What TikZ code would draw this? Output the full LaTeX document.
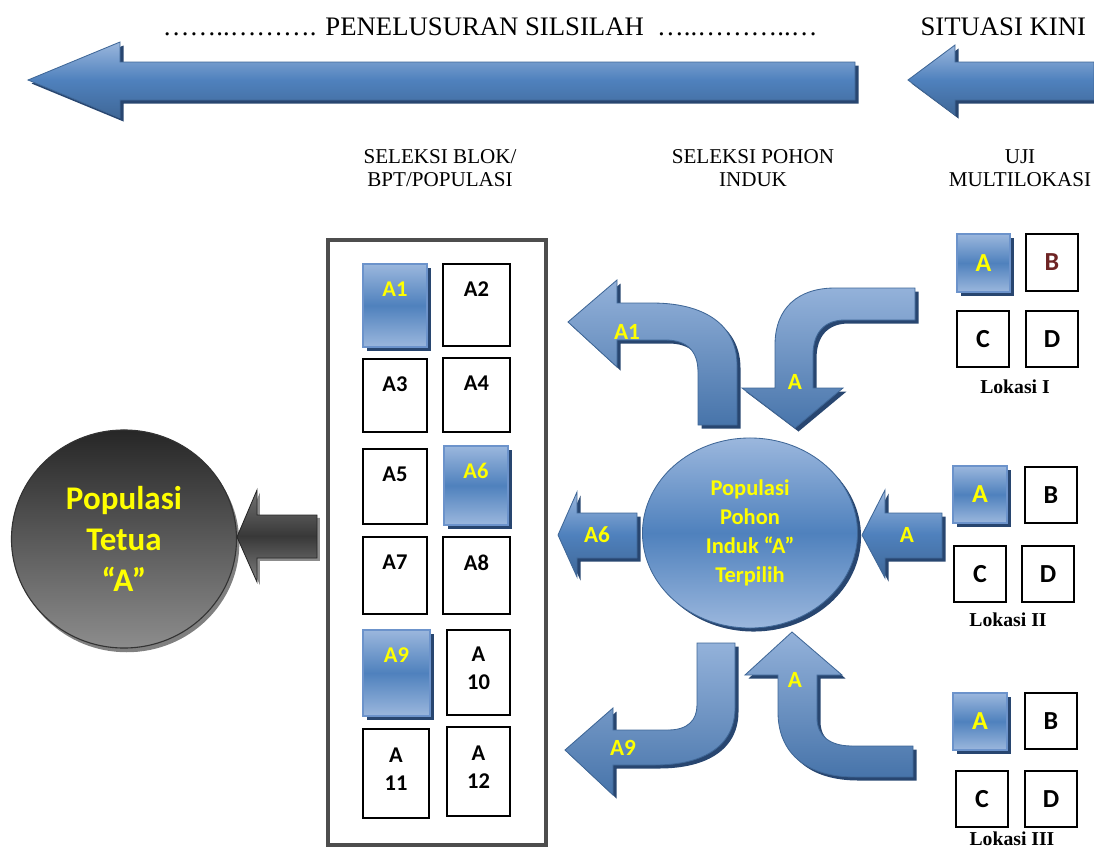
\documentclass[tikz,border=0pt]{standalone}
\usepackage{fontspec}
\setmainfont{Liberation Serif}
\newfontfamily\calibri{Carlito}
\usetikzlibrary{shapes.geometric,shadows,fit}

\definecolor{bluelight}{HTML}{9BB7DD}
\definecolor{bluemid}{HTML}{4F81BD}
\definecolor{blueedge}{HTML}{6C93CB}
\definecolor{shadowblue}{HTML}{284670}
\definecolor{framegray}{HTML}{4D4D4D}
\definecolor{yel}{HTML}{FFFF00}
\definecolor{brownred}{HTML}{6E2424}

\tikzset{
  bayang/.style={drop shadow={shadow xshift=2.5pt, shadow yshift=-2.5pt, fill=shadowblue, opacity=1}},
  blok/.style={draw=black, line width=1pt, fill=white, inner sep=0pt},
  blokbiru/.style={draw=blueedge, line width=1.2pt, top color=bluelight, bottom color=bluelight,
    middle color=bluemid, inner sep=0pt, bayang},
  panah/.style={draw=bluemid!80!black, line width=0.6pt, top color=bluelight, bottom color=bluemid!80!black,
    middle color=bluemid, bayang},
  panahlengkung/.style={draw=bluemid!80!black, line width=0.6pt, top color=bluelight!90!bluemid,
    bottom color=bluemid!90!black, bayang},
  panahabu/.style={draw=black!85, line width=0.6pt, top color=black!55, bottom color=black!50,
    middle color=black!78, drop shadow={shadow xshift=2pt, shadow yshift=-2pt, fill=black!45, opacity=1}},
  bingkai/.style={draw=framegray, line width=2.2pt, inner sep=0pt},
  judul/.style={font=\fontsize{19}{22}\selectfont},
  ket/.style={font=\fontsize{15}{16.5}\selectfont, align=center},
  lokasi/.style={font=\bfseries\fontsize{14}{16}\selectfont},
  huruf/.style={font=\calibri\bfseries\fontsize{16}{20.5}\selectfont, align=center},
  hurufkuning/.style={huruf, text=yel},
  hurufbesar/.style={font=\calibri\bfseries\fontsize{18.5}{22}\selectfont},
  panahteks/.style={font=\calibri\bfseries\fontsize{16.5}{18}\selectfont, text=yel},
}

\begin{document}
\begin{tikzpicture}[x=0.025cm, y=-0.025cm]
  \useasboundingbox (0,0) rectangle (1094,849);

  % judul atas
  \node[judul, anchor=west] (silsilah) at (158,27) {……..………. PENELUSURAN SILSILAH \ …..………..…};
  \node[judul, anchor=east] (kini) at (1091,27) {SITUASI KINI};
  % panah atas
  \path[panah] (28,80) -- (120,42) -- (120,62) -- (855,62) -- (855,100) -- (120,100) -- (120,118) -- cycle;
  \path[panah] (908,80) -- (955,45) -- (955,62) -- (1094,62) -- (1094,100) -- (955,100) -- (955,115) -- cycle;

  % tahapan
  \node[ket] (seleksiblok) at (440,168) {SELEKSI BLOK/\\BPT/POPULASI};
  \node[ket] (seleksipohon) at (753,168) {SELEKSI POHON\\INDUK};
  \node[ket] (uji) at (1020,168) {UJI\\MULTILOKASI};

  % blok / BPT / populasi
  \node[bingkai, fit={(328,240) (546,845)}] (wadah) {};
  \node[blokbiru, fit={(363,264) (427,347)}] (a1) {};
  \node[blok, fit={(443,264) (510,346)}] (a2) {};
  \node[blok, fit={(363,359) (427,432)}] (a3) {};
  \node[blok, fit={(443,358) (510,432)}] (a4) {};
  \node[blok, fit={(363,449) (427,524)}] (a5) {};
  \node[blokbiru, fit={(444,446) (508,525)}] (a6) {};
  \node[blok, fit={(363,537) (427,614)}] (a7) {};
  \node[blok, fit={(443,537) (510,614)}] (a8) {};
  \node[blokbiru, fit={(363,630) (430,716)}] (a9) {};
  \node[blok, fit={(447,630) (510,715)}] (a10) {};
  \node[blok, fit={(363,729) (429,818)}] (a11) {};
  \node[blok, fit={(447,727) (510,816)}] (a12) {};
  \node[hurufkuning] (t1) at ([yshift=-18.5pt]a1.north) {A1};
  \node[huruf] (t2) at ([yshift=-18.5pt]a2.north) {A2};
  \node[huruf] (t3) at ([yshift=-18.5pt]a3.north) {A3};
  \node[huruf] (t4) at ([yshift=-18.5pt]a4.north) {A4};
  \node[huruf] (t5) at ([yshift=-18.5pt]a5.north) {A5};
  \node[hurufkuning] (t6) at ([yshift=-18.5pt]a6.north) {A6};
  \node[huruf] (t7) at ([yshift=-18.5pt]a7.north) {A7};
  \node[huruf] (t8) at ([yshift=-18.5pt]a8.north) {A8};
  \node[hurufkuning] (t9) at ([yshift=-18.5pt]a9.north) {A9};
  \node[huruf] (t10) at ([yshift=3pt]a10.center) {A\\10};
  \node[huruf] (t11) at ([yshift=3pt]a11.center) {A\\11};
  \node[huruf] (t12) at ([yshift=3pt]a12.center) {A\\12};

  % populasi tetua
  \node[ellipse, draw=black!80, line width=0.8pt, minimum width=5.625cm, minimum height=5.45cm,
    top color=black!85, bottom color=black!45, text=yel, align=center,
    font=\calibri\bfseries\fontsize{23.5}{29}\selectfont,
    drop shadow={shadow xshift=2pt, shadow yshift=-3pt, fill=black!50, opacity=1}] (tetua) at (124,539)
    {Populasi\\Tetua\\“A”};
  \path[panahabu] (237,537) -- (257,490) -- (257,515) -- (317,515) -- (317,558) -- (257,558) -- (257,582) -- cycle;

  % populasi pohon induk
  \node[ellipse, draw=bluemid!80!black, line width=0.6pt, minimum width=5.375cm, minimum height=4.75cm,
    top color=bluelight, bottom color=bluelight, middle color=bluemid, text=yel, align=center,
    font=\calibri\bfseries\fontsize{16}{20.5}\selectfont, bayang] (induk) at (750,533)
    {Populasi\\Pohon\\Induk “A”\\Terpilih};

  % panah A1
  \path[panahlengkung] (568,322) -- (617,280) -- (617,303) -- (652,303) .. controls (705,303) and (737,325) .. (737,365)
    -- (737,425) -- (698,425) -- (698,372) .. controls (698,352) and (688,340) .. (665,340) -- (617,340) -- (617,367) -- cycle;
  % panah A (atas)
  \path[panahlengkung] (915,288) -- (915,320) -- (845,320) .. controls (825,320) and (813,332) .. (813,355)
    -- (813,388) -- (843,388) -- (795,428) -- (742,388) -- (775,388) -- (775,345) .. controls (775,308) and (798,288) .. (835,288) -- cycle;
  % panah A6
  \path[panah] (558,535) -- (577,492) -- (577,513) -- (637,513) -- (637,558) -- (577,558) -- (577,577) -- cycle;
  % panah A (kanan)
  \path[panah] (862,535) -- (885,490) -- (885,513) -- (942,513) -- (942,558) -- (885,558) -- (885,578) -- cycle;
  % panah A9
  \path[panahlengkung] (697,643) -- (735,643) -- (735,708) .. controls (735,745) and (705,765) .. (655,765)
    -- (613,765) -- (613,795) -- (565,750) -- (613,708) -- (613,730) -- (668,730) .. controls (688,730) and (697,720) .. (697,705) -- cycle;
  % panah A (bawah)
  \path[panahlengkung] (913,746) -- (913,777) -- (855,777) .. controls (805,777) and (778,752) .. (778,712)
    -- (778,675) -- (745,675) -- (792,632) -- (842,675) -- (817,675) -- (817,718) .. controls (817,736) and (830,746) .. (852,746) -- cycle;
  \node[panahteks] (p1) at (627,332) {A1};
  \node[panahteks] (p2) at (795,382) {A};
  \node[panahteks] (p3) at (597,535) {A6};
  \node[panahteks] (p4) at (907,535) {A};
  \node[panahteks] (p5) at (623,748) {A9};
  \node[panahteks] (p6) at (795,680) {A};

  % Lokasi I
  \node[blokbiru, fit={(957,234) (1010,292)}] (l1a) {};
  \node[blok, fit={(1026,234) (1078,291)}] (l1b) {};
  \node[blok, fit={(957,311) (1009,367)}] (l1c) {};
  \node[blok, fit={(1026,311) (1078,367)}] (l1d) {};
  \node[hurufbesar, text=yel] at (l1a) {A};
  \node[hurufbesar, text=brownred] at (l1b) {B};
  \node[hurufbesar] at (l1c) {C};
  \node[hurufbesar] at (l1d) {D};
  \node[lokasi] (lok1) at (1015,387) {Lokasi I};
  % Lokasi II
  \node[blokbiru, fit={(953,466) (1007,523)}] (l2a) {};
  \node[blok, fit={(1025,467) (1077,523)}] (l2b) {};
  \node[blok, fit={(954,546) (1006,602)}] (l2c) {};
  \node[blok, fit={(1022,546) (1074,602)}] (l2d) {};
  \node[hurufbesar, text=yel] at (l2a) {A};
  \node[hurufbesar] at (l2b) {B};
  \node[hurufbesar] at (l2c) {C};
  \node[hurufbesar] at (l2d) {D};
  \node[lokasi] (lok2) at (1008,620) {Lokasi II};
  % Lokasi III
  \node[blokbiru, fit={(953,693) (1007,750)}] (l3a) {};
  \node[blok, fit={(1025,693) (1077,749)}] (l3b) {};
  \node[blok, fit={(956,771) (1008,827)}] (l3c) {};
  \node[blok, fit={(1025,771) (1077,827)}] (l3d) {};
  \node[hurufbesar, text=yel] at (l3a) {A};
  \node[hurufbesar] at (l3b) {B};
  \node[hurufbesar] at (l3c) {C};
  \node[hurufbesar] at (l3d) {D};
  \node[lokasi] (lok3) at (1012,839) {Lokasi III};
\end{tikzpicture}
\end{document}
